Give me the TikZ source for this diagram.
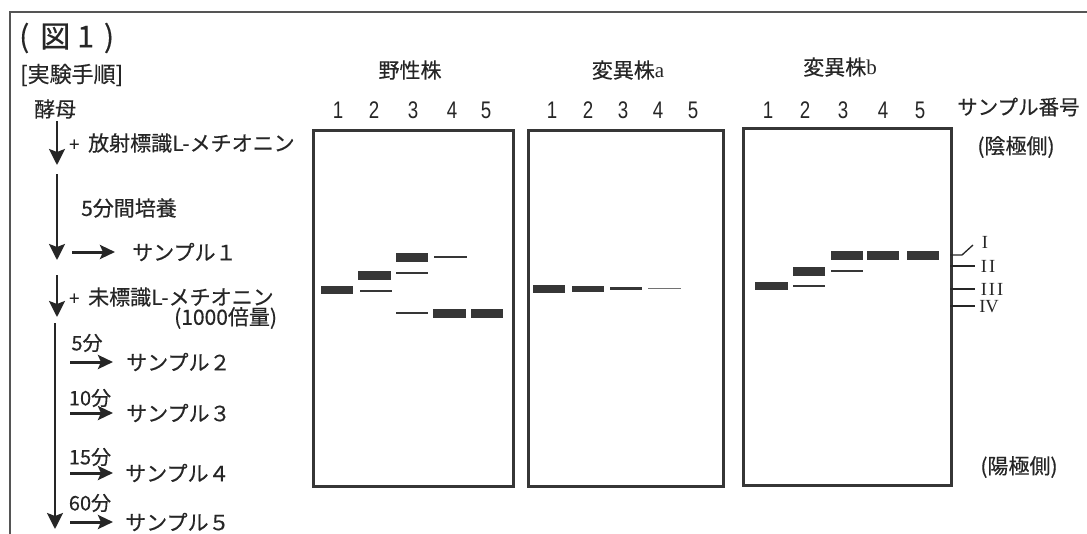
\documentclass[tikz,border=0pt]{standalone}
\usepackage{fontspec}
\usepackage{graphicx}
\setmainfont{Noto Sans CJK JP}[FakeBold=0.35]
\newfontfamily\romanfont{Liberation Serif}
\newfontfamily\lanefont[FakeStretch=0.78]{Liberation Sans}
\usetikzlibrary{arrows.meta}
\definecolor{ink}{HTML}{262626}
\definecolor{bandc}{HTML}{363636}
\definecolor{framec}{HTML}{555555}
\begin{document}
\begin{tikzpicture}[x=1pt,y=-1pt,
  txt/.style={text=ink,inner sep=0pt,font=\fontsize{21}{23}\selectfont},
  lane/.style={text=ink,inner sep=0pt,font=\lanefont\fontsize{24}{26}\selectfont},
  rom/.style={text=ink,inner sep=0pt,font=\romanfont\fontsize{18.5}{19}\selectfont},
  gelbox/.style={draw=bandc,line width=2.6pt,inner sep=0pt,anchor=north west},
  band/.style={fill=bandc},
  thinband/.style={draw=bandc,line width=1.7pt},
  tick/.style={draw=ink,line width=1.3pt},
  down/.style={draw=ink,line width=2.4pt,-{Stealth[length=16pt,width=16pt,inset=3pt]}},
  right/.style={draw=ink,line width=3pt,-{Stealth[length=15pt,width=14pt,inset=3pt]}}]
\useasboundingbox (0,0) rectangle (1087,533);
\clip (0,0) rectangle (1087,533);
\fill[white] (0,0) rectangle (1087,533);
\draw[framec,line width=2pt] (10,12) rectangle (1110,560);

% headings
\node[txt,anchor=west,font=\fontsize{30}{32}\selectfont] (fig) at (19,38) {(\hspace{11pt}図\hspace{7pt}1\hspace{10pt})};
\node[txt,anchor=west,font=\fontsize{22}{24}\selectfont] (proc) at (20,75) {[実験手順]};
\node[txt,anchor=west] (yeast) at (34,109) {酵母};

% procedure arrows
\coordinate (a1s) at (57,121); \coordinate (a1e) at (57,165);
\coordinate (a2s) at (57,174); \coordinate (a2e) at (57,260);
\coordinate (a3s) at (57,275); \coordinate (a3e) at (57,317);
\coordinate (a4s) at (55,323); \coordinate (a4e) at (55,529);
\draw[down] (a1s) -- (a1e);
\draw[down] (a2s) -- (a2e);
\draw[down] (a3s) -- (a3e);
\draw[down] (a4s) -- (a4e);

\node[txt,anchor=west] (add1) at (69,143) {{\fontsize{18}{20}\selectfont +}\hspace{9pt}放射標識L-メチオニン};
\node[txt,anchor=west] (inc) at (81,208) {5分間培養};
\coordinate (s1a) at (72,252); \coordinate (s1b) at (115,252);
\draw[right] (s1a) -- (s1b);
\node[txt,anchor=west] (smp1) at (132,252) {サンプル１};
\node[txt,anchor=west] (add2) at (69,297) {{\fontsize{18}{20}\selectfont +}\hspace{9pt}未標識L-メチオニン};
\node[txt,anchor=west] (x1000) at (174,318) {(1000倍量)};

\node[txt,font=\fontsize{20}{22}\selectfont] (t5) at (87,343) {5分};
\coordinate (s2a) at (70,362); \coordinate (s2b) at (113,362);
\draw[right] (s2a) -- (s2b);
\node[txt,anchor=west] (smp2) at (126,362) {サンプル２};

\node[txt,font=\fontsize{20}{22}\selectfont] (t10) at (90,398) {10分};
\coordinate (s3a) at (70,413); \coordinate (s3b) at (113,413);
\draw[right] (s3a) -- (s3b);
\node[txt,anchor=west] (smp3) at (126,413) {サンプル３};

\node[txt,font=\fontsize{20}{22}\selectfont] (t15) at (90,457) {15分};
\coordinate (s4a) at (70,473); \coordinate (s4b) at (113,473);
\draw[right] (s4a) -- (s4b);
\node[txt,anchor=west] (smp4) at (125,473) {サンプル４};

\node[txt,font=\fontsize{20}{22}\selectfont] (t60) at (90,503) {60分};
\coordinate (s5a) at (70,522); \coordinate (s5b) at (113,522);
\draw[right] (s5a) -- (s5b);
\node[txt,anchor=west] (smp5) at (125,522) {サンプル５};

% gel titles
\node[txt] (tw) at (410,70) {野性株};
\node[txt] (ta) at (628,70) {変異株{\romanfont a}};
\node[txt] (tb) at (840,67) {変異株{\romanfont b}};

% lane numbers
\foreach \n/\x in {1/338,2/374,3/413,4/452,5/486}{\node[lane] (lw\n) at (\x,110) {\n};}
\foreach \n/\x in {1/552,2/588,3/623,4/658,5/693}{\node[lane] (la\n) at (\x,110) {\n};}
\foreach \n/\x in {1/768,2/805,3/843,4/883,5/920}{\node[lane] (lb\n) at (\x,110) {\n};}
\node[txt,anchor=west,font=\fontsize{20.5}{22}\selectfont] (sn) at (957,107) {サンプル番号};
\node[txt] (cath) at (1016,147) {(陰極側)};
\node[txt] (anod) at (1019,467) {(陽極側)};

% gels
\node[gelbox,minimum width=200pt,minimum height=356pt] (gelW) at (312,129) {};
\node[gelbox,minimum width=195pt,minimum height=356pt] (gelA) at (527,129) {};
\node[gelbox,minimum width=208pt,minimum height=357pt] (gelB) at (742,127) {};

% wild type bands
\fill[band] (321,285.5) rectangle (353,294);
\fill[band] (358,271) rectangle (391,279.5);
\fill[band] (396,253) rectangle (428,261.5);
\fill[band] (433,309) rectangle (466,317.5);
\fill[band] (471,309) rectangle (503,317.5);
\draw[thinband] (360,291) -- (392,291);
\draw[thinband] (396,273) -- (428,273);
\draw[thinband] (396,313) -- (428,313);
\draw[thinband] (434,257) -- (467,257);

% mutant a bands
\fill[band] (533,284.5) rectangle (565,293);
\fill[band] (572,285.5) rectangle (604,291.5);
\draw[draw=bandc,line width=2.6pt] (610,288.5) -- (642,288.5);
\draw[draw=bandc!70,line width=1.2pt] (648,288.5) -- (681,288.5);

% mutant b bands
\fill[band] (755,281.5) rectangle (788,290);
\fill[band] (793,267) rectangle (825,275.5);
\fill[band] (831,251) rectangle (863,259.5);
\fill[band] (867,251) rectangle (899,259.5);
\fill[band] (907,251) rectangle (939,259.5);
\draw[thinband] (793,286) -- (825,286);
\draw[thinband] (831,271) -- (863,271);

% band markers
\coordinate (m1a) at (950,255); \coordinate (m1b) at (962,255); \coordinate (m1c) at (973,245);
\draw[tick] (m1a) -- (m1b) -- (m1c);
\coordinate (m2a) at (950,266); \coordinate (m2b) at (975,266);
\draw[tick] (m2a) -- (m2b);
\coordinate (m3a) at (950,289); \coordinate (m3b) at (975,289);
\draw[tick] (m3a) -- (m3b);
\coordinate (m4a) at (950,306); \coordinate (m4b) at (975,306);
\draw[tick] (m4a) -- (m4b);
\node[rom] (r1) at (985,242) {I};
\node[rom] (r2) at (988,266) {I\hspace{2pt}I};
\node[rom] (r3) at (992,289) {I\hspace{2pt}I\hspace{2pt}I};
\node[rom] (r4) at (989,307) {IV};
\end{tikzpicture}
\end{document}
